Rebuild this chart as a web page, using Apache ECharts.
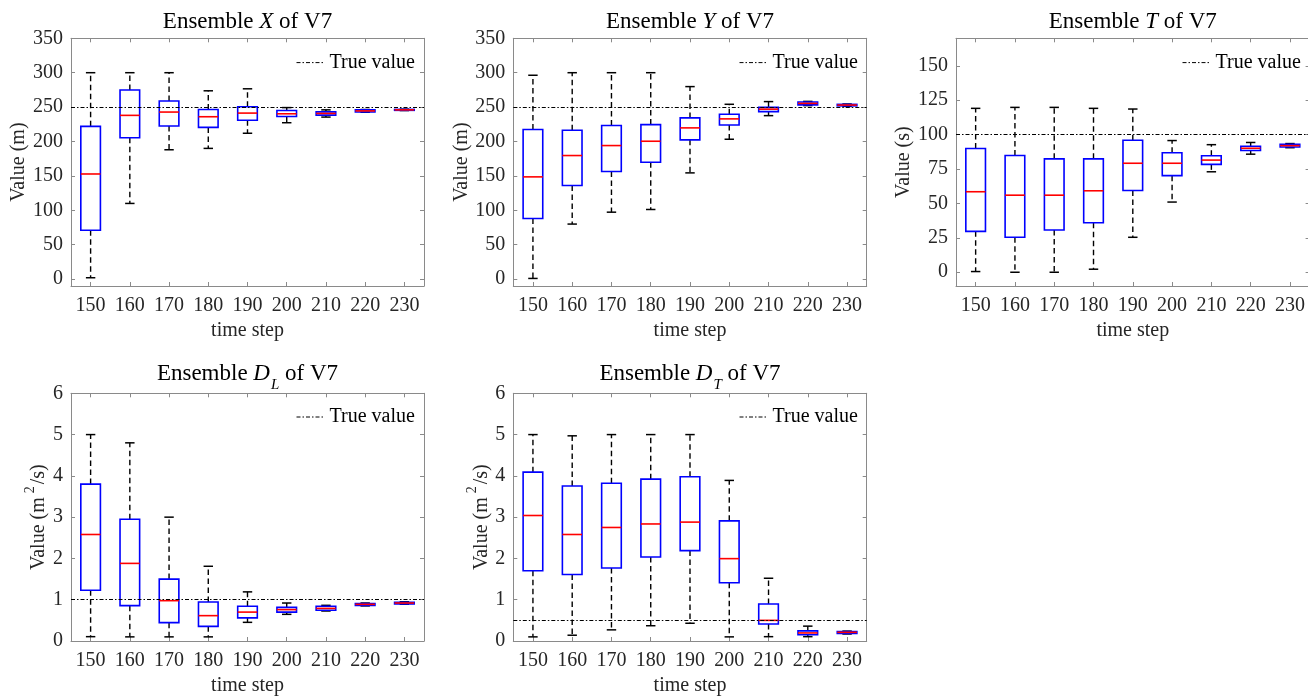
<!DOCTYPE html>
<html><head><meta charset="utf-8">
<script src="https://cdn.jsdelivr.net/npm/echarts@6/dist/echarts.min.js"></script>
<style>html,body{margin:0;padding:0;background:#fff}#c{width:1308px;height:697px}</style>
</head><body><div id="c"></div><script>
// ---------------- data ----------------
const timeSteps = ['150','160','170','180','190','200','210','220','230'];

// Ensemble X (m)
const xWhiskerLow  = [2, 110, 188, 190, 212, 227.3, 235.5, 242.5, 245];
const xQ1          = [71, 205.5, 222.5, 220.5, 231, 236.3, 238.4, 242.9, 245.3];
const xMedian      = [152.8, 238, 242.8, 236, 241.3, 240.3, 240.8, 244.5, 246];
const xQ3          = [222, 274.8, 258.8, 246.6, 250.5, 245, 243, 246, 246.7];
const xWhiskerHigh = [300, 300, 300, 273.7, 276.6, 249.3, 246, 246.5, 247];

// Ensemble Y (m)
const yWhiskerLow  = [1, 80, 97.3, 101.2, 154.4, 203.3, 237.6, 252.2, 251];
const yQ1          = [88.1, 136, 156.4, 169.9, 202.4, 224.1, 243.5, 253.3, 251.8];
const yMedian      = [148.6, 179.6, 194.1, 200.4, 219.8, 232.9, 247, 255.4, 253];
const yQ3          = [217.4, 216.4, 223.2, 224.6, 234.3, 239.6, 249.6, 257.5, 254];
const yWhiskerHigh = [296.3, 300, 300, 300, 279.8, 254.1, 258, 258.3, 254.5];

// Ensemble T (s)
const tWhiskerLow  = [0.5, 0, 0, 2.2, 25.4, 51, 73, 85.8, 90.5];
const tQ1          = [29.7, 25.4, 30.7, 36, 59.4, 70.2, 78.4, 88.5, 91];
const tMedian      = [58.5, 56, 56, 59.2, 79.2, 79.2, 81.5, 90.1, 92];
const tQ3          = [89.9, 84.8, 82.4, 82.4, 95.9, 86.8, 84.7, 91.6, 93];
const tWhiskerHigh = [119.1, 119.8, 119.8, 119.1, 118.6, 95.7, 92.7, 94.3, 93.5];

// Ensemble D_L (m^2/s)
const dlWhiskerLow  = [0.105, 0.1, 0.1, 0.1, 0.452, 0.646, 0.727, 0.85, 0.89];
const dlQ1          = [1.23, 0.856, 0.444, 0.355, 0.56, 0.70, 0.745, 0.86, 0.90];
const dlMedian      = [2.58, 1.88, 0.977, 0.614, 0.70, 0.76, 0.79, 0.888, 0.92];
const dlQ3          = [3.80, 2.95, 1.50, 0.945, 0.84, 0.814, 0.84, 0.91, 0.94];
const dlWhiskerHigh = [5.0, 4.80, 3.0, 1.81, 1.19, 0.92, 0.864, 0.92, 0.95];

// Ensemble D_T (m^2/s)
const dtWhiskerLow  = [0.1, 0.14, 0.27, 0.37, 0.43, 0.1, 0.105, 0.105, 0.17];
const dtQ1          = [1.70, 1.61, 1.77, 2.035, 2.19, 1.41, 0.41, 0.15, 0.18];
const dtMedian      = [3.04, 2.58, 2.75, 2.835, 2.88, 1.995, 0.50, 0.195, 0.21];
const dtQ3          = [4.09, 3.755, 3.82, 3.92, 3.98, 2.91, 0.896, 0.245, 0.23];
const dtWhiskerHigh = [5.0, 4.97, 5.0, 5.0, 5.0, 3.89, 1.52, 0.36, 0.24];

const trueX = 250, trueY = 250, trueT = 100, trueDL = 1, trueDT = 0.5;

const ticksXY = [0, 50, 100, 150, 200, 250, 300, 350];
const ticksT  = [0, 25, 50, 75, 100, 125, 150];
const ticksD  = [0, 1, 2, 3, 4, 5, 6];

// ---------------- layout / style ----------------
const FONT = "'Liberation Serif', 'Times New Roman', serif";
const AX = '#8a8a8a';
const TXT = '#262626';
const TRUE_DASH = [4, 2, 1.5, 2];

const panels = [
  { title: '{n|Ensemble }{i|X}{n| of V7}', yName: '{n|Value (m)}', min: -10, max: 350, ticks: ticksXY, truth: trueX,
    q: [xWhiskerLow, xQ1, xMedian, xQ3, xWhiskerHigh],
    grid: { left: 71, top: 38.3, width: 353, height: 247.7 }, nameGap: 38, titleTop: 10, legend: { left: 296, top: 52.6 } },
  { title: '{n|Ensemble }{i|Y}{n| of V7}', yName: '{n|Value (m)}', min: -10, max: 350, ticks: ticksXY, truth: trueY,
    q: [yWhiskerLow, yQ1, yMedian, yQ3, yWhiskerHigh],
    grid: { left: 513.3, top: 38.3, width: 353.4, height: 247.7 }, nameGap: 38, titleTop: 10, legend: { left: 739, top: 52.6 } },
  { title: '{n|Ensemble }{i|T}{n| of V7}', yName: '{n|Value (s)}', min: -10, max: 170, ticks: ticksT, truth: trueT,
    q: [tWhiskerLow, tQ1, tMedian, tQ3, tWhiskerHigh],
    grid: { left: 956, top: 38.3, width: 353.6, height: 247.7 }, nameGap: 38, titleTop: 10, legend: { left: 1182, top: 52.6 } },
  { title: '{n|Ensemble }{i|D}{s|L}{n| of V7}', yName: '{n|Value (m}{p|2}{n|/s)}', min: 0, max: 6, ticks: ticksD, truth: trueDL,
    q: [dlWhiskerLow, dlQ1, dlMedian, dlQ3, dlWhiskerHigh],
    grid: { left: 71, top: 393.3, width: 353, height: 247.7 }, nameGap: 18, titleTop: 362, legend: { left: 296, top: 407 } },
  { title: '{n|Ensemble }{i|D}{s|T}{n| of V7}', yName: '{n|Value (m}{p|2}{n|/s)}', min: 0, max: 6, ticks: ticksD, truth: trueDT,
    q: [dtWhiskerLow, dtQ1, dtMedian, dtQ3, dtWhiskerHigh],
    grid: { left: 513.3, top: 393.3, width: 353.4, height: 247.7 }, nameGap: 18, titleTop: 362, legend: { left: 739, top: 407 } }
];

function renderBox(params, api) {
  const c = api.value(0);
  const lo = api.coord([c, api.value(1)]);
  const q1 = api.coord([c, api.value(2)]);
  const md = api.coord([c, api.value(3)]);
  const q3 = api.coord([c, api.value(4)]);
  const hi = api.coord([c, api.value(5)]);
  const band = api.size([1, 0])[0];
  const x = lo[0], hw = band * 0.25, cw = band * 0.12;
  const dash = { stroke: '#000', lineWidth: 1.4, lineDash: [5.5, 3.5], fill: null };
  const solid = { stroke: '#000', lineWidth: 1.5, fill: null };
  return { type: 'group', children: [
    { type: 'line', shape: { x1: x, y1: q3[1], x2: x, y2: hi[1] }, style: dash },
    { type: 'line', shape: { x1: x, y1: q1[1], x2: x, y2: lo[1] }, style: dash },
    { type: 'line', shape: { x1: x - cw, y1: hi[1], x2: x + cw, y2: hi[1] }, style: solid },
    { type: 'line', shape: { x1: x - cw, y1: lo[1], x2: x + cw, y2: lo[1] }, style: solid },
    { type: 'rect', shape: { x: x - hw, y: q3[1], width: 2 * hw, height: q1[1] - q3[1] },
      style: { fill: null, stroke: '#0000ff', lineWidth: 1.6 } },
    { type: 'line', shape: { x1: x - hw, y1: md[1], x2: x + hw, y2: md[1] },
      style: { stroke: '#ff0000', lineWidth: 1.6, fill: null } }
  ] };
}

const titleRich = {
  n: { fontFamily: FONT, fontSize: 23, fontWeight: 'normal', color: '#000', lineHeight: 26, verticalAlign: 'top' },
  i: { fontFamily: FONT, fontSize: 23, fontWeight: 'normal', color: '#000', lineHeight: 26, verticalAlign: 'top', fontStyle: 'italic' },
  s: { fontFamily: FONT, fontSize: 15, fontWeight: 'normal', color: '#000', lineHeight: 15, verticalAlign: 'top', fontStyle: 'italic', padding: [16, 0, 0, 1] }
};
const nameRich = {
  n: { fontFamily: FONT, fontSize: 20, color: TXT, lineHeight: 26, verticalAlign: 'bottom' },
  p: { fontFamily: FONT, fontSize: 14, color: TXT, lineHeight: 14, verticalAlign: 'top', padding: [0, 2, 0, 4] }
};

const option = { animation: false, backgroundColor: '#fff',
  title: [], grid: [], xAxis: [], yAxis: [], series: [], legend: [] };

panels.forEach((p, i) => {
  option.grid.push(Object.assign({ outerBoundsMode: 'none', containLabel: false }, p.grid));
  option.title.push({
    text: p.title, left: p.grid.left + p.grid.width / 2, top: p.titleTop, textAlign: 'center', padding: 0,
    textStyle: { fontFamily: FONT, fontSize: 23, fontWeight: 'normal', color: '#000', rich: titleRich }
  });
  const lineAx = { show: true, onZero: false, lineStyle: { color: AX, width: 1 } };
  const tickAx = { show: true, inside: true, length: 4, lineStyle: { color: AX, width: 1 } };
  option.xAxis.push({
    gridIndex: i, type: 'category', data: timeSteps, position: 'bottom', boundaryGap: true,
    axisLine: lineAx, axisTick: Object.assign({ alignWithLabel: true }, tickAx),
    axisLabel: { fontFamily: FONT, fontSize: 20, color: TXT, margin: 10 },
    splitLine: { show: false },
    name: 'time step', nameLocation: 'middle', nameGap: 35,
    nameTextStyle: { fontFamily: FONT, fontSize: 20, color: TXT }
  });
  option.xAxis.push({
    gridIndex: i, type: 'category', data: timeSteps, position: 'top', boundaryGap: true,
    axisLine: lineAx, axisTick: Object.assign({ alignWithLabel: true }, tickAx),
    axisLabel: { show: false }, splitLine: { show: false }
  });
  option.yAxis.push({
    gridIndex: i, type: 'value', min: p.min, max: p.max, position: 'left',
    axisLine: lineAx, axisTick: Object.assign({ customValues: p.ticks }, tickAx),
    axisLabel: { customValues: p.ticks, fontFamily: FONT, fontSize: 20, color: TXT, margin: 8 },
    splitLine: { show: false },
    name: p.yName, nameLocation: 'middle', nameRotate: 90, nameGap: p.nameGap,
    nameTextStyle: { fontFamily: FONT, fontSize: 20, color: TXT, rich: nameRich }
  });
  option.yAxis.push({
    gridIndex: i, type: 'value', min: p.min, max: p.max, position: 'right',
    axisLine: lineAx, axisTick: Object.assign({ customValues: p.ticks }, tickAx),
    axisLabel: { show: false, customValues: p.ticks }, splitLine: { show: false }
  });
  const data = timeSteps.map((t, k) => [k, p.q[0][k], p.q[1][k], p.q[2][k], p.q[3][k], p.q[4][k]]);
  option.series.push({
    type: 'custom', xAxisIndex: 2 * i, yAxisIndex: 2 * i, renderItem: renderBox,
    encode: { x: 0, y: [1, 2, 3, 4, 5] }, data: data, silent: true, z: 2
  });
  option.series.push({
    type: 'line', name: 'True value', xAxisIndex: 2 * i, yAxisIndex: 2 * i, data: [],
    symbol: 'none', lineStyle: { color: '#000', width: 1, type: TRUE_DASH },
    itemStyle: { color: '#000', opacity: 0 }, z: 5,
    markLine: { silent: true, symbol: ['none', 'none'], label: { show: false }, animation: false,
      lineStyle: { color: '#000', width: 1, type: TRUE_DASH, opacity: 1 }, emphasis: { disabled: true },
      data: [{ yAxis: p.truth }] }
  });
  option.legend.push({
    data: ['True value'], left: p.legend.left, top: p.legend.top, padding: 0,
    itemWidth: 28, itemHeight: 14, selectedMode: false,
    itemStyle: { opacity: 0 },
    lineStyle: { color: '#000', width: 1, type: TRUE_DASH, opacity: 1 },
    textStyle: { fontFamily: FONT, fontSize: 20, color: '#000' }
  });
});

const chart = echarts.init(document.getElementById('c'), null, { renderer: 'canvas' });
chart.setOption(option);
</script></body></html>
